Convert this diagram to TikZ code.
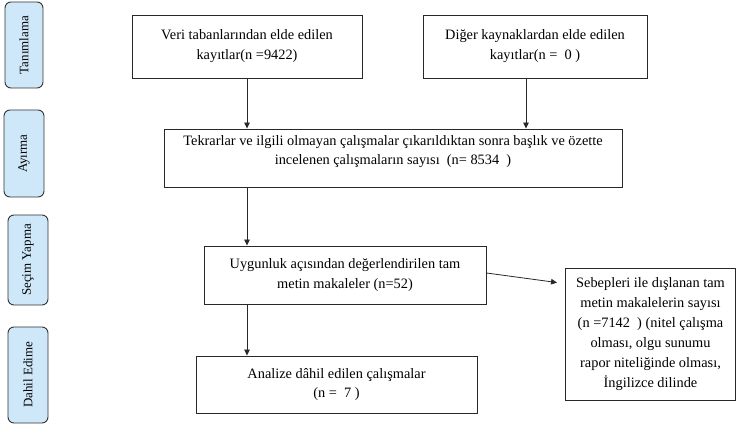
\documentclass[tikz,border=0pt]{standalone}
\usepackage{fontspec}
\setmainfont{Liberation Serif}
\usetikzlibrary{arrows.meta,calc}
\definecolor{sideblue}{RGB}{206,232,250}
\definecolor{lineclr}{RGB}{40,40,40}
\begin{document}
\begin{tikzpicture}[x=1bp,y=-1bp,
  box/.style={draw=lineclr, line width=0.9bp, align=center, inner sep=0pt,
    font=\fontsize{14.4}{20}\selectfont},
  side/.style={draw=black!80, fill=sideblue, rounded corners=6bp, line width=0.9bp,
    inner sep=0pt, rotate=90, font=\fontsize{13}{15}\selectfont},
  arr/.style={draw=lineclr, line width=0.8bp, -{Triangle[length=6bp,width=5.5bp]}}]
\useasboundingbox (0,0) rectangle (738,444);
% side labels
\node[side, minimum width=86bp, minimum height=38bp] (s1) at (24,45) {Tanımlama};
\node[side, minimum width=87bp, minimum height=40bp] (s2) at (24,153.5) {Ayırma};
\node[side, minimum width=90bp, minimum height=40bp] (s3) at (28,260) {Seçim Yapma};
\node[side, minimum width=96bp, minimum height=40bp] (s4) at (28,375) {Dahil Edime};
% boxes
\node[box, minimum width=230bp, minimum height=63bp] (b1) at (247,46.5)
  {Veri tabanlarından elde edilen\\kayıtlar(n =9422)};
\node[box, minimum width=224bp, minimum height=63bp] (b2) at (535,46.5)
  {Diğer kaynaklardan elde edilen\\kayıtlar(n =\ \ 0 )};
\node[box, minimum width=458bp, minimum height=58bp] (mid) at (393,158)
  {Tekrarlar ve ilgili olmayan çalışmalar çıkarıldıktan sonra başlık ve özette\\incelenen çalışmaların sayısı\ \ (n= 8534\ \ )\\[-4bp]};
\node[box, minimum width=282bp, minimum height=58bp] (b3) at (345,275)
  {Uygunluk açısından değerlendirilen tam\\metin makaleler (n=52)};
\node[box, minimum width=281bp, minimum height=57bp] (b4) at (336.5,384.5)
  {Analize dâhil edilen çalışmalar\\(n =\ \ 7 )};
\node[box, minimum width=170bp, minimum height=132bp] (rb) at (650.5,334)
  {Sebepleri ile dışlanan tam\\metin makalelerin sayısı\\(n =7142\ \ ) (nitel çalışma\\olması, olgu sunumu\\rapor niteliğinde olması,\\İngilizce dilinde};
% connectors
\draw[arr] (b1.south) -- (b1.south |- mid.north);
\draw[arr] ([xshift=-9bp]b2.south) -- ([xshift=-9bp]b2.south |- mid.north);
\draw[arr] (b1.south |- mid.south) -- (b1.south |- b3.north);
\draw[arr] (b1.south |- b3.south) -- (b1.south |- b4.north);
\draw[arr] ([yshift=2bp]b3.east) -- ([xshift=-8bp,yshift=-15bp]rb.north west);
\end{tikzpicture}
\end{document}
